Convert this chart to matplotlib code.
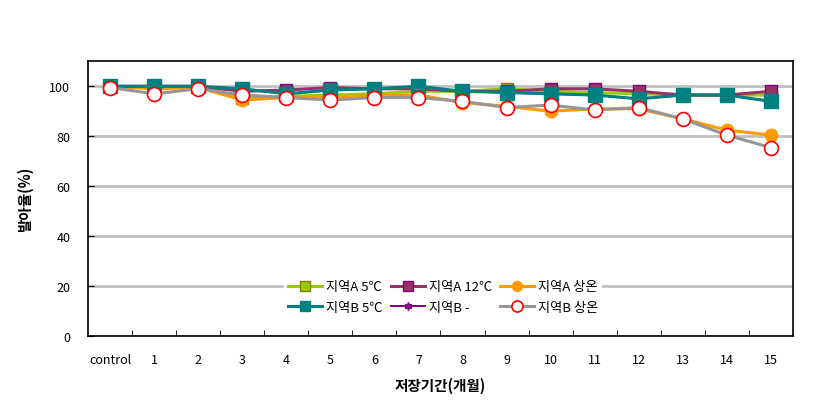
import numpy as np
import matplotlib
matplotlib.use("Agg")
import matplotlib.pyplot as plt

plt.rcParams['font.family'] = ['Noto Sans CJK KR', 'DejaVu Sans']

# storage period (months)
months = ['control', '1', '2', '3', '4', '5', '6', '7', '8', '9',
          '10', '11', '12', '13', '14', '15']

# germination rate (%)
a_5c = [100, 99.5, 100, 95.5, 96, 96.5, 97, 98, 98, 99, 98, 97.5, 97, 96.5, 96.5, 96.5]
a_12c = [100, 100, 100, 98, 98.5, 99.5, 99, 99, 98, 98, 99, 99, 98, 96.5, 96.5, 98]
a_room = [100, 99, 99.5, 94.5, 95.5, 95.5, 96.5, 96.5, 93.5, 92, 90, 91, 91, 87, 82.5, 80.5]
b_5c = [100, 100, 100, 99, 97, 98.5, 99, 100, 98, 97.5, 97, 96.5, 95, 96.5, 96.5, 94]
b_none = [100, 100, 100, 99, 97, 98.5, 99, 100, 98, 97.5, 97, 96.5, 95, 96.5, 96.5, 94]
b_room = [99.5, 97, 99, 96.5, 95.5, 94.5, 95.5, 95.5, 94, 91.5, 92.5, 90.5, 91.5, 87, 80.5, 75.5]

fig = plt.figure(figsize=(8.3, 4.14), dpi=100)
ax = fig.add_axes([0.1064, 0.1853, 0.8486, 0.6642])

x = np.arange(len(months))
lw = 2.2
h_a5, = ax.plot(x, a_5c, color='#99CC00', lw=lw, marker='s', ms=9,
                mfc='#99CC00', mec='#808000', mew=1, label='지역A 5℃', zorder=3)
h_a12, = ax.plot(x, a_12c, color='#993366', lw=lw, marker='s', ms=9,
                 mfc='#993366', mec='#800080', mew=1, label='지역A 12℃', zorder=3)
h_ar, = ax.plot(x, a_room, color='#FF9900', lw=lw, marker='o', ms=9,
                mfc='#FF9900', mec='#FF9900', label='지역A 상온', zorder=3)
h_b5, = ax.plot(x, b_5c, color='#008080', lw=lw, marker='s', ms=9.5,
                mfc='#008080', mec='#008080', label='지역B 5℃', zorder=3.2)
h_bn, = ax.plot(x, b_none, color='#800080', lw=lw - 0.8, marker=(6, 2, 0), ms=7,
                mec='#800080', mew=1.2, label='지역B -', zorder=3.1)
h_br, = ax.plot(x, b_room, color='#969696', lw=lw, marker='o', ms=10,
                mfc='white', mec='#FF0000', mew=1.2, label='지역B 상온', zorder=3.3)

ax.set_xlim(-0.5, len(months) - 0.5)
ax.set_ylim(0, 110)
ax.set_yticks(np.arange(0, 101, 20))
ax.yaxis.grid(True, color='#C0C0C0', lw=2)
ax.set_axisbelow(True)

ax.set_xticks(x)
ax.set_xticklabels(months)
ax.set_xticks(np.arange(0.5, len(months) - 1, 1), minor=True)
ax.tick_params(axis='x', which='major', length=0, pad=12, labelsize=9)
ax.tick_params(axis='x', which='minor', direction='in', length=4)
ax.tick_params(axis='y', direction='in', length=4, pad=13, labelsize=9)
for sp in ax.spines.values():
    sp.set_linewidth(1.2)

ax.set_xlabel('저장기간(개월)', fontsize=10.5, fontweight='bold', labelpad=8)
ax.set_ylabel('발아율(%)', fontsize=10.5, fontweight='bold', labelpad=12)

handles = [h_a5, h_b5, h_a12, h_bn, h_ar, h_br]
ax.legend(handles=handles, labels=[h.get_label() for h in handles],
          ncol=3, loc='center', bbox_to_anchor=(0.534, 0.28),
          bbox_transform=fig.transFigure, fontsize=9.5, frameon=True,
          framealpha=1, facecolor='white', edgecolor='none', markerscale=0.8,
          handlelength=2.6, columnspacing=0.6, handletextpad=0.3,
          labelspacing=0.6, borderpad=0.3, fancybox=False)

fig.savefig('out.png', dpi=100)
